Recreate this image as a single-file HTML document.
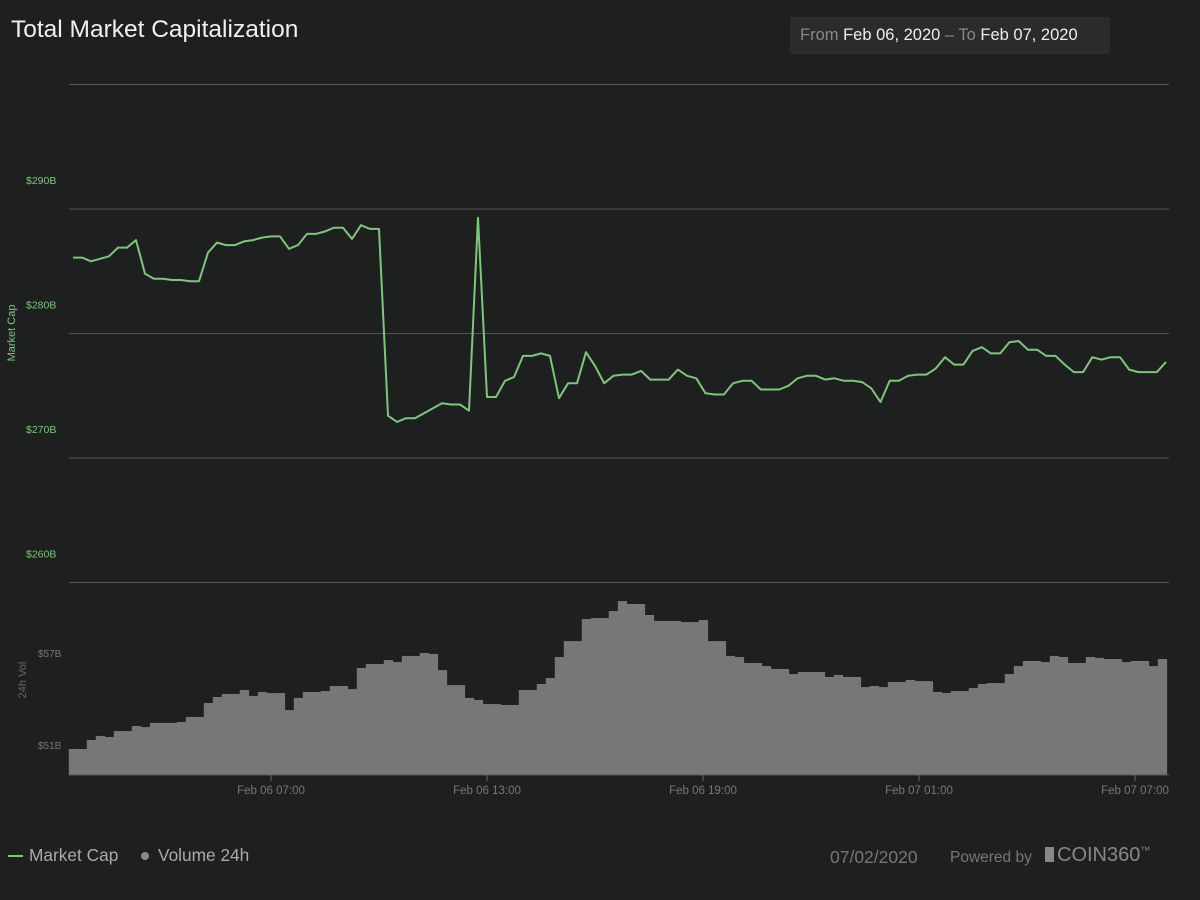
<!DOCTYPE html>
<html><head><meta charset="utf-8">
<style>
html,body{margin:0;padding:0;background:#1e1f1f;}
body{width:1200px;height:900px;position:relative;overflow:hidden;font-family:"Liberation Sans",sans-serif;}
.t{position:absolute;white-space:nowrap;}
</style></head>
<body>
<div class="t" style="left:11px;top:16px;font-size:24.5px;color:#f0f0f0;">Total Market Capitalization</div>
<div style="position:absolute;left:790px;top:17px;width:320px;height:37px;background:#2a2b2b;border-radius:2px;"></div>
<div class="t" style="left:800px;top:26px;font-size:16.5px;color:#eee;"><span style="color:#888">From</span> Feb 06, 2020 <span style="color:#888">– To</span> Feb 07, 2020</div>
<svg id="chart" width="1200" height="900" style="position:absolute;left:0;top:0;" xmlns="http://www.w3.org/2000/svg"></svg>
<div style="position:absolute;left:8px;top:855px;width:15px;height:2px;background:#7dc67a;"></div>
<div class="t" style="left:29px;top:845px;font-size:17.3px;color:#aaa;">Market Cap</div>
<div style="position:absolute;left:141px;top:852px;width:8px;height:8px;border-radius:50%;background:#888;"></div>
<div class="t" style="left:158px;top:845px;font-size:17.3px;color:#aaa;">Volume 24h</div>
<div class="t" style="left:830px;top:847px;font-size:17.5px;color:#777;">07/02/2020</div>
<div class="t" style="left:950px;top:849px;font-size:15.5px;color:#777;">Powered by</div>
<div class="t" style="left:1045px;top:844px;font-size:20px;color:#888;"><span style="display:inline-block;width:9px;height:15px;background:#888;margin-right:3px;vertical-align:-1px"></span>COIN360<sup style="font-size:10px">™</sup></div>
<script>
const capValues=[286.1,286.1,285.8,286.0,286.2,286.9,286.9,287.5,284.8,284.4,284.4,284.3,284.3,284.2,284.2,286.5,287.3,287.1,287.1,287.4,287.5,287.7,287.8,287.8,286.8,287.1,288.0,288.0,288.2,288.5,288.5,287.6,288.7,288.4,288.4,273.4,272.9,273.2,273.2,273.6,274.0,274.4,274.3,274.3,273.8,289.3,274.9,274.9,276.2,276.5,278.2,278.2,278.4,278.2,274.8,276.0,276.0,278.5,277.4,
276.0,276.6,276.7,276.7,277.0,276.3,276.3,276.3,277.1,276.6,276.4,275.2,275.1,275.1,276.0,276.2,276.2,275.5,275.5,275.5,275.8,276.4,276.6,276.6,276.3,276.4,276.2,276.2,276.1,275.6,274.5,276.2,276.2,276.6,276.7,276.7,277.2,278.1,277.5,277.5,278.6,278.9,278.4,278.4,279.3,279.4,278.7,278.7,278.2,278.2,277.5,276.9,276.9,278.1,277.9,278.1,278.1,277.1,276.9,276.9,276.9,277.7];
const volValues=[50.74,50.74,51.33,51.59,51.52,51.91,51.91,52.24,52.17,52.44,52.44,52.44,52.50,52.83,52.83,53.74,54.13,54.33,54.33,54.59,54.20,54.46,54.39,54.39,53.28,54.07,54.46,54.46,54.52,54.85,54.85,54.65,56.02,56.28,56.28,56.54,56.41,56.81,56.81,57.00,56.94,55.89,54.91,54.91,54.07,53.94,53.67,53.67,53.61,53.61,54.59,54.59,54.98,55.37,56.74,57.78,57.78,59.22,59.28,59.28,59.74,60.39,60.20,60.20,59.48,59.09,59.09,59.09,59.02,59.02,59.15,57.78,57.78,56.81,56.74,56.35,56.35,56.15,55.96,55.96,55.63,55.76,55.76,55.76,55.44,55.57,55.44,55.44,54.78,54.85,54.78,55.11,55.11,55.24,55.17,55.17,54.46,54.39,54.52,54.52,54.72,54.98,55.04,55.04,55.63,56.15,56.48,56.48,56.41,56.81,56.74,56.35,56.35,56.74,56.68,56.61,56.61,56.41,56.48,56.48,56.15,56.61];
const capTicks=[260,270,280,290,300];
const capTickLabels=["$260B","$270B","$280B","$290B",""];
const volTicks=[51,57];
const volTickLabels=["$51B","$57B"];
const timeTicks=[0,360,720,1080,1440];
const timeTickLabels=["Feb 06 07:00","Feb 06 13:00","Feb 06 19:00","Feb 07 01:00","Feb 07 07:00"];
const svg=document.getElementById('chart');
const NS="http://www.w3.org/2000/svg";
function mk(tag,attrs,parent){const e=document.createElementNS(NS,tag);for(const k in attrs)e.setAttribute(k,attrs[k]);(parent||svg).appendChild(e);return e;}
const L=69,R=1169;
const yCap=v=>209-(v-290)*12.45;
const yVol=v=>745-(v-51)*15.33;
const xTime=m=>271+m*0.6;
const barStart=-337, barStep=15;
const lineX=i=>i<=58?73+i*9:595+(i-58)*(571/(capValues.length-1-58));
capTicks.forEach((v,i)=>{
 const g=mk('line',{x1:L,x2:R,y1:yCap(v),y2:yCap(v),stroke:'#555','stroke-width':1});
 
 
 if(capTickLabels[i]){const t=mk('text',{x:26,y:yCap(v)-25,'font-size':10.5,fill:'#7dc67a','font-family':'Liberation Sans, sans-serif'});t.textContent=capTickLabels[i];
 
 }
});
const yt=mk('text',{x:0,y:0,'font-size':11,fill:'#7dc67a','text-anchor':'middle',transform:'translate(15,333) rotate(-90)','font-family':'Liberation Sans, sans-serif'});
yt.textContent='Market Cap';


const vt=mk('text',{x:0,y:0,'font-size':11,fill:'#666','text-anchor':'middle',transform:'translate(26,680) rotate(-90)','font-family':'Liberation Sans, sans-serif'});
vt.textContent='24h Vol';


volTicks.forEach((v,i)=>{const t=mk('text',{x:38,y:yVol(v)+4,'font-size':10,fill:'#777','font-family':'Liberation Sans, sans-serif'});t.textContent=volTickLabels[i];
 
 });
const base=yVol(49.04);
volValues.forEach((v,i)=>{
 const x0=xTime(barStart+i*barStep), x1=xTime(barStart+(i+1)*barStep);
 const r=mk('rect',{x:x0,y:yVol(v),width:x1-x0+0.3,height:base-yVol(v),fill:'#777'});
 
 
});
const pts=capValues.map((v,i)=>lineX(i).toFixed(1)+','+yCap(v).toFixed(1)).join(' ');
const pl=mk('polyline',{points:pts,fill:'none',stroke:'#7dc67a','stroke-width':2,'stroke-linejoin':'round'});


const ax=mk('line',{x1:L,x2:R,y1:775,y2:775,stroke:'#555','stroke-width':1});


timeTicks.forEach((m,i)=>{
 const x=xTime(m);
 const tk=mk('line',{x1:x,x2:x,y1:775,y2:781,stroke:'#666','stroke-width':1});
 
 
 const t=mk('text',{x:x,y:794,'font-size':11.5,fill:'#777','text-anchor':'middle','font-family':'Liberation Sans, sans-serif'});
 t.textContent=timeTickLabels[i];
 
 
});
</script>
</body></html>
